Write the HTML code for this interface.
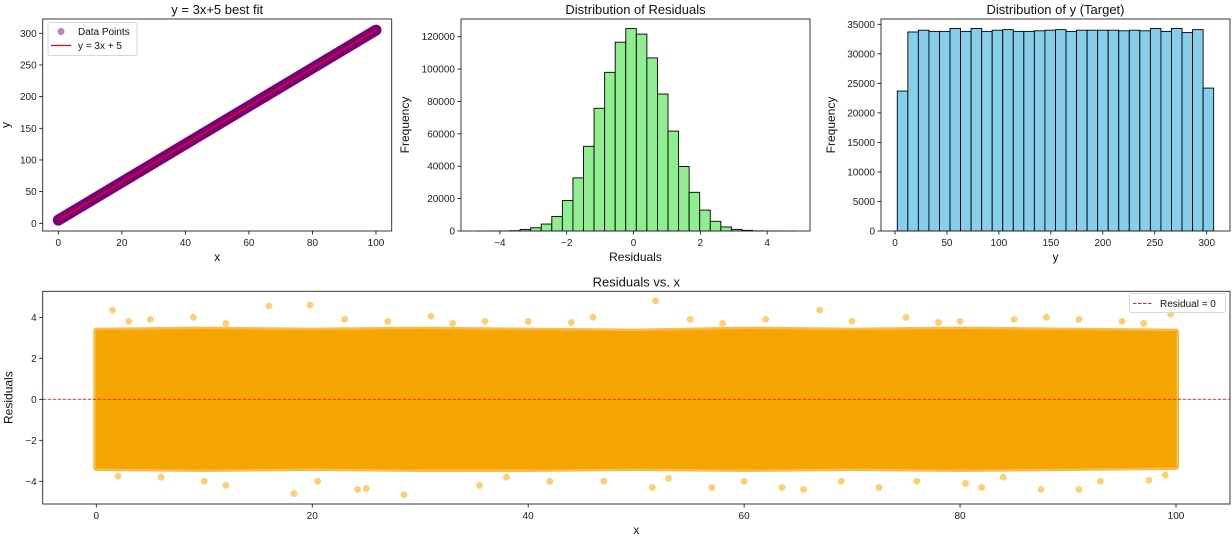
<!DOCTYPE html>
<html><head><meta charset="utf-8"><style>
html,body{margin:0;padding:0;background:#fff;}
svg{display:block;font-family:"Liberation Sans","DejaVu Sans",sans-serif;}
</style></head><body>
<svg id="fig" width="1232" height="537" viewBox="0 0 1232 537" xmlns="http://www.w3.org/2000/svg"></svg>
<script>
// ---- Panel 1 data ----
const fitXs = [0, 100];
const fitSlope = 3, fitIntercept = 5;
const p1XTicks = [0,20,40,60,80,100];
const p1YTicks = [0,50,100,150,200,250,300];
// ---- Panel 2 data (residual histogram) ----
const resBinStart = -4.66, resBinWidth = 0.3163;
const resCounts = [5,10,50,200,1000,2000,4300,9000,18800,32800,52300,75800,98000,116600,125000,121600,106900,84600,61700,39800,23900,12900,6000,2500,1000,400,100,30,10,5];
const p2XTicks = [-4,-2,0,2,4];
const p2YTicks = [0,20000,40000,60000,80000,100000,120000];
// ---- Panel 3 data (target histogram) ----
const yBinStart = 2.2, yBinWidth = 10.15;
const yCounts = [23700,33700,34000,33800,33800,34300,33800,34300,33800,34000,34100,33800,33800,33900,34000,34100,33800,34000,34000,34000,34000,33900,34000,33900,34300,33800,34300,33600,34100,24200];
const p3XTicks = [0,50,100,150,200,250,300];
const p3YTicks = [0,5000,10000,15000,20000,25000,30000,35000];
// ---- Panel 4 data (residuals vs x) ----
const envX = [0,10,20,30,40,50,60,70,80,90,100];
const envUpper = [3.35,3.4,3.35,3.4,3.35,3.3,3.4,3.35,3.4,3.35,3.3];
const envLower = [-3.35,-3.4,-3.35,-3.4,-3.4,-3.35,-3.4,-3.35,-3.4,-3.35,-3.3];
const outX = [1.5,16,19.8,51.8,67,99.5,9,31,23,46,75,62,36,85,88,91,3,5,27,40,55,70,80,95,12,33,44,58,78,97,
              18.3,28.5,25,24.2,12,35.5,51.5,57,63.5,65.5,72.5,80.5,82,87.5,91,97.5,10,20.5,42,47,60,69,76,93,2,6,38,53,84,99];
const outY = [4.35,4.55,4.6,4.8,4.35,4.15,4.0,4.05,3.9,4.0,4.0,3.9,3.8,3.9,4.0,3.9,3.8,3.9,3.8,3.8,3.9,3.8,3.8,3.8,3.7,3.7,3.75,3.7,3.75,3.7,
              -4.6,-4.65,-4.35,-4.4,-4.2,-4.2,-4.3,-4.3,-4.3,-4.4,-4.3,-4.1,-4.3,-4.4,-4.4,-3.95,-4.0,-4.0,-4.0,-4.0,-4.0,-4.0,-4.0,-4.0,-3.75,-3.8,-3.8,-3.85,-3.8,-3.7];
const p4XTicks = [0,20,40,60,80,100];
const p4YTicks = [-4,-2,0,2,4];

const NS = "http://www.w3.org/2000/svg";
const svg = document.getElementById('fig');
function el(tag, attrs, parent, text){
  const e = document.createElementNS(NS, tag);
  for (const k in attrs) e.setAttribute(k, attrs[k]);
  if (text !== undefined) e.textContent = text;
  (parent||svg).appendChild(e);
  return e;
}
function lin(d0,d1,r0,r1){ return v => r0 + (v-d0)*(r1-r0)/(d1-d0); }

function axes(g, box, sx, sy, xt, yt, title, xl, yl, yfmt){
  xt.forEach(t=>{
    const x = sx(t);
    const tk = el('line',{x1:x,x2:x,y1:box.b,y2:box.b+3.5,stroke:'#000','stroke-width':0.8},g);
    
    
    const lb = el('text',{x:x,y:box.b+15,'font-size':10,'text-anchor':'middle',fill:'#222'},g,(t<0?'\u2212'+Math.abs(t):String(t)));
    
    
  });
  yt.forEach(t=>{
    const y = sy(t);
    const tk = el('line',{x1:box.l-3.5,x2:box.l,y1:y,y2:y,stroke:'#000','stroke-width':0.8},g);
    
    
    const lb = el('text',{x:box.l-6,y:y+3.5,'font-size':10,'text-anchor':'end',fill:'#222'},g,(t<0?'\u2212'+Math.abs(t):String(t)));
    
    
  });
  const fr = el('rect',{x:box.l,y:box.t,width:box.r-box.l,height:box.b-box.t,fill:'none',stroke:'#222','stroke-width':0.9},g);
  
  
  const ti = el('text',{x:(box.l+box.r)/2,y:box.t-5,'font-size':13,'text-anchor':'middle',fill:'#111'},g,title);
  
  
  const xa = el('text',{x:(box.l+box.r)/2,y:box.b+30,'font-size':12,'text-anchor':'middle',fill:'#111'},g,xl);
  
  
  const yx = box.l - yfmt, yy=(box.t+box.b)/2;
  const ya = el('text',{x:yx,y:yy,'font-size':12,'text-anchor':'middle',fill:'#111',transform:`rotate(-90 ${yx} ${yy})`},g,yl);
  
  
}

// ===== Panel 1 =====
(function(){
  const g = el('g',{});
  
  
  const box={l:42.7,r:391.7,t:19,b:231};
  const sx=lin(0,100,58.3,376), sy=lin(0,300,223.3,33.3);
  const pts = fitXs.map(x=>[sx(x),sy(fitSlope*x+fitIntercept)]);
  const band = el('line',{x1:pts[0][0],y1:pts[0][1],x2:pts[1][0],y2:pts[1][1],stroke:'#7a007a','stroke-width':11,'stroke-linecap':'round'},g);
  
  
  const ln = el('line',{x1:pts[0][0],y1:pts[0][1],x2:pts[1][0],y2:pts[1][1],stroke:'#ff0000','stroke-width':1.2},g);
  
  
  axes(g,box,sx,sy,p1XTicks,p1YTicks,'y = 3x+5 best fit','x','y',33);
  const lg = el('g',{},g);
  
  
  el('rect',{x:48,y:22.5,width:89,height:33,rx:2,fill:'#fff',stroke:'#ccc','stroke-width':0.8},lg);
  const d = el('circle',{cx:61,cy:31.5,r:3.5,fill:'#800080','fill-opacity':0.5},lg);
  
  
  el('text',{x:78,y:35,'font-size':10,fill:'#111'},lg,'Data Points');
  const l2 = el('line',{x1:51,x2:71,y1:45.5,y2:45.5,stroke:'#ff0000','stroke-width':1.2},lg);
  
  
  el('text',{x:78,y:49,'font-size':10,fill:'#111'},lg,'y = 3x + 5');
})();

// ===== Panel 2 =====
(function(){
  const g = el('g',{});
  
  
  const box={l:461,r:810,t:19,b:231};
  const sx=lin(0,1,633.5,666.9), sy=lin(0,120000,231,36.7);
  resCounts.forEach((c,i)=>{
    const x0=sx(resBinStart+i*resBinWidth), x1=sx(resBinStart+(i+1)*resBinWidth);
    const r = el('rect',{x:x0,y:sy(c),width:x1-x0,height:sy(0)-sy(c),fill:'#90ee90',stroke:'#000','stroke-width':0.9},g);
    
    
  });
  axes(g,box,sx,sy,p2XTicks,p2YTicks,'Distribution of Residuals','Residuals','Frequency',52);
})();

// ===== Panel 3 =====
(function(){
  const g = el('g',{});
  
  
  const box={l:881,r:1230,t:19,b:231};
  const sx=lin(0,300,895,1206.7), sy=lin(0,35000,231,24.3);
  yCounts.forEach((c,i)=>{
    const x0=sx(yBinStart+i*yBinWidth), x1=sx(yBinStart+(i+1)*yBinWidth);
    const r = el('rect',{x:x0,y:sy(c),width:x1-x0,height:sy(0)-sy(c),fill:'#87ceeb',stroke:'#000','stroke-width':0.9},g);
    
    
  });
  axes(g,box,sx,sy,p3XTicks,p3YTicks,'Distribution of y (Target)','y','Frequency',46);
})();

// ===== Panel 4 =====
(function(){
  const g = el('g',{});
  
  
  const box={l:42.7,r:1230,t:291.3,b:504};
  const sx=lin(0,100,96.3,1176), sy=lin(0,4,399.3,317.3);
  let d='M'+sx(envX[0])+','+sy(envUpper[0]);
  envX.forEach((x,i)=>{ d+=' L'+sx(x)+','+sy(envUpper[i]); });
  for(let i=envX.length-1;i>=0;i--){ d+=' L'+sx(envX[i])+','+sy(envLower[i]); }
  d+=' Z';
  const fr = el('path',{d:d,fill:'#f8bb4a',stroke:'#f8bb4a','stroke-width':6,'stroke-linejoin':'round'},g);
  
  
  const band = el('path',{d:d,fill:'#f5a500',stroke:'#f5a500','stroke-width':1},g);
  
  
  outX.forEach((x,i)=>{
    const c = el('circle',{cx:sx(x),cy:sy(outY[i]),r:3.4,fill:'#ffa500','fill-opacity':0.55},g);
    
    
  });
  const zl = el('line',{x1:box.l,x2:box.r,y1:sy(0),y2:sy(0),stroke:'#e8231c','stroke-width':0.9,'stroke-dasharray':'3.5,1.5'},g);
  
  
  axes(g,box,sx,sy,p4XTicks,p4YTicks,'Residuals vs. x','x','Residuals',30);
  const lg = el('g',{},g);
  
  
  el('rect',{x:1129.5,y:293.5,width:96,height:19,rx:2,fill:'#fff',stroke:'#ccc','stroke-width':0.8},lg);
  const lm = el('line',{x1:1133,x2:1152,y1:303.5,y2:303.5,stroke:'#e8231c','stroke-width':0.9,'stroke-dasharray':'3.5,1.5'},lg);
  
  
  el('text',{x:1160,y:307,'font-size':10,fill:'#111'},lg,'Residual = 0');
})();
</script>
</body></html>
